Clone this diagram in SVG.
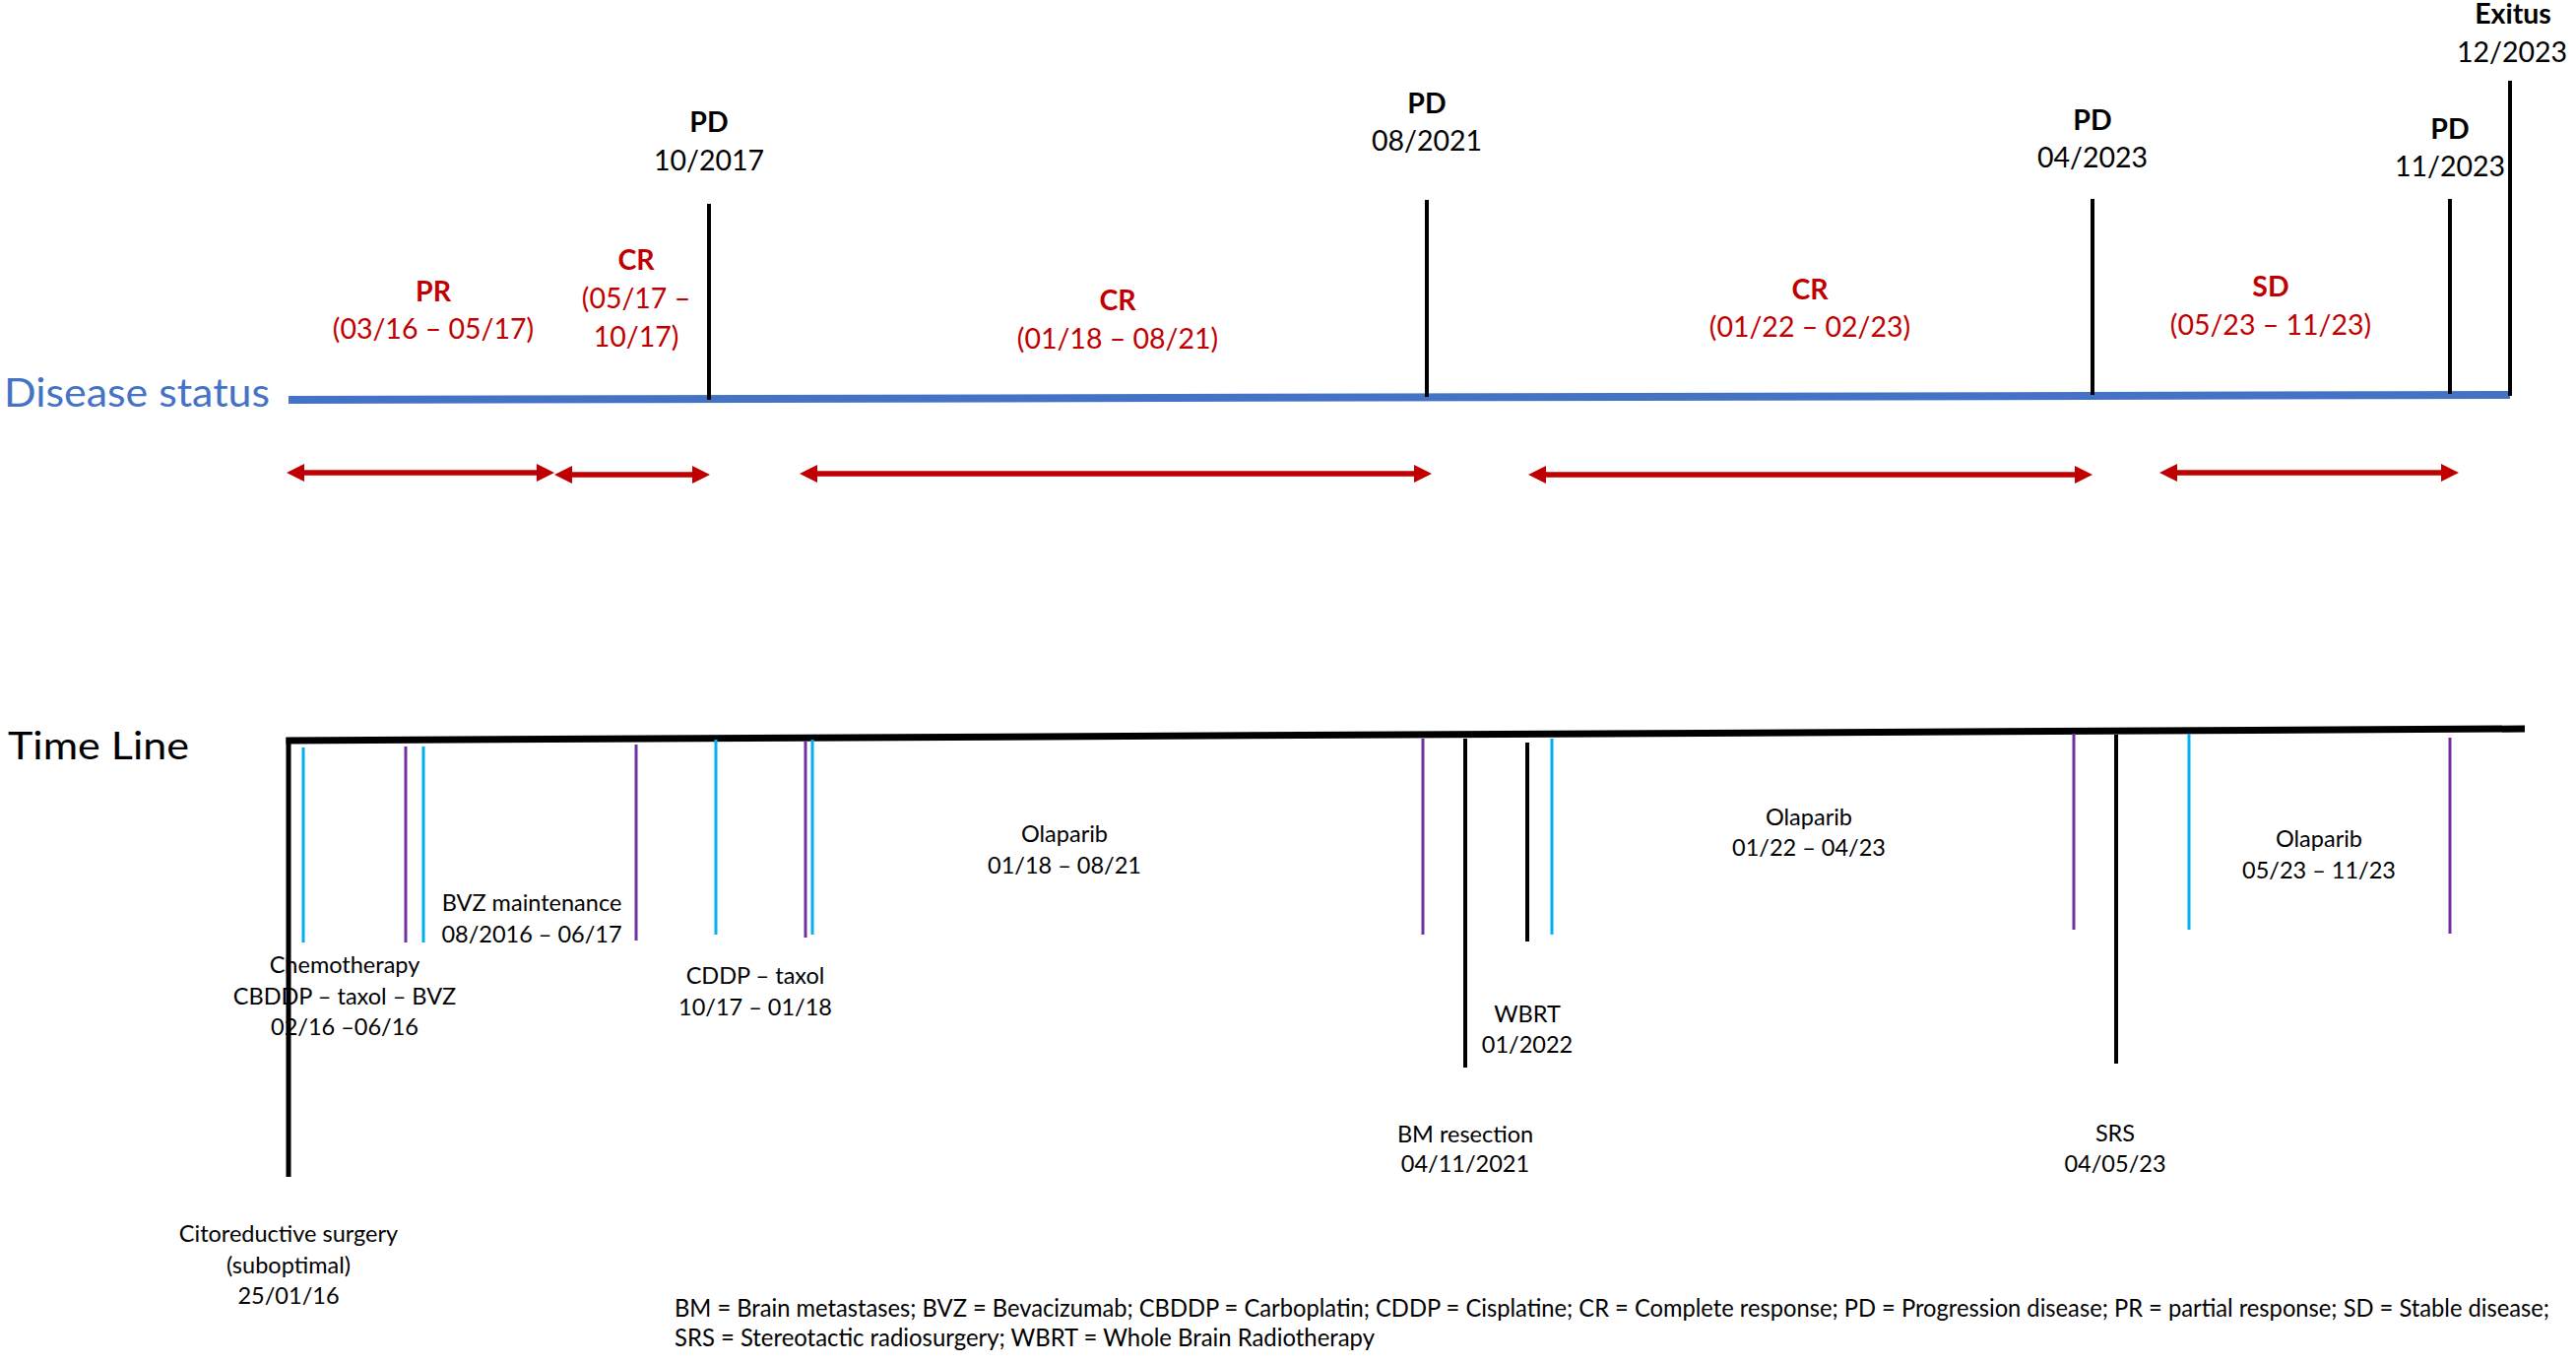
<svg xmlns="http://www.w3.org/2000/svg" width="2616" height="1384" viewBox="0 0 2616 1384">
<style>
text{font-family:Lato,"Open Sans","Liberation Sans",sans-serif;}
.top{font-size:28.5px;text-anchor:middle;fill:#000;}
.b{font-weight:bold;}
.red{fill:#C00000;}
.bot{font-size:23.5px;text-anchor:middle;fill:#000;}
.leg{font-size:24.5px;fill:#000;}
.blk{stroke:#000;stroke-width:4;fill:none;}
.cy{stroke:#00B0F0;stroke-width:3;fill:none;}
.pu{stroke:#7030A0;stroke-width:3;fill:none;}
.arr{stroke:#C00000;stroke-width:5.5;fill:none;marker-start:url(#ah);marker-end:url(#ah);}
</style>
<defs>
<marker id="ah" markerUnits="userSpaceOnUse" markerWidth="18" markerHeight="18" refX="0" refY="9" orient="auto-start-reverse" viewBox="0 0 18 18">
<path d="M0,0 L18,9 L0,18 Z" fill="#C00000"/>
</marker>
</defs>
<rect width="2616" height="1384" fill="#fff"/>

<g id="disease-status">
<text x="4" y="413" font-size="41" fill="#4472C4" textLength="270" lengthAdjust="spacingAndGlyphs">Disease status</text>
<line x1="293" y1="406" x2="2549" y2="401" stroke="#4472C4" stroke-width="8"/>
</g>

<g id="pd-2017">
<text class="top b" x="720" y="134">PD</text>
<text class="top" x="720" y="173">10/2017</text>
<line class="blk" x1="720" y1="207" x2="720" y2="406"/>
</g>
<g id="pd-2021">
<text class="top b" x="1449" y="115">PD</text>
<text class="top" x="1449" y="153">08/2021</text>
<line class="blk" x1="1449" y1="203" x2="1449" y2="403"/>
</g>
<g id="pd-2023-04">
<text class="top b" x="2125" y="132">PD</text>
<text class="top" x="2125" y="170">04/2023</text>
<line class="blk" x1="2125" y1="202" x2="2125" y2="401"/>
</g>
<g id="pd-2023-11">
<text class="top b" x="2488" y="141">PD</text>
<text class="top" x="2488" y="179">11/2023</text>
<line class="blk" x1="2488" y1="202" x2="2488" y2="400"/>
</g>
<g id="exitus">
<text class="top b" x="2552" y="24">Exitus</text>
<text class="top" x="2551" y="63">12/2023</text>
<line class="blk" x1="2549" y1="82" x2="2549" y2="402"/>
</g>

<g id="pr-label">
<text class="top b red" x="440" y="306">PR</text>
<text class="top red" x="440" y="344">(03/16 – 05/17)</text>
</g>
<g id="cr-1">
<text class="top b red" x="646" y="274">CR</text>
<text class="top red" x="646" y="313">(05/17 –</text>
<text class="top red" x="646" y="352">10/17)</text>
</g>
<g id="cr-2">
<text class="top b red" x="1135" y="315">CR</text>
<text class="top red" x="1135" y="354">(01/18 – 08/21)</text>
</g>
<g id="cr-3">
<text class="top b red" x="1838" y="304">CR</text>
<text class="top red" x="1838" y="342">(01/22 – 02/23)</text>
</g>
<g id="sd-label">
<text class="top b red" x="2306" y="301">SD</text>
<text class="top red" x="2306" y="340">(05/23 – 11/23)</text>
</g>

<g id="connectors">
<line class="arr" x1="309" y1="480" x2="545" y2="480"/>
<line class="arr" x1="581" y1="482" x2="703" y2="482"/>
<line class="arr" x1="830" y1="481" x2="1436" y2="481"/>
<line class="arr" x1="1570" y1="482" x2="2107" y2="482"/>
<line class="arr" x1="2211" y1="480" x2="2479" y2="480"/>
</g>

<g id="time-line">
<text x="8" y="771" font-size="39" fill="#000" textLength="184" lengthAdjust="spacingAndGlyphs">Time Line</text>
<line x1="290.5" y1="752" x2="2564" y2="740" stroke="#000" stroke-width="7"/>
</g>

<g id="surgery">
<text class="bot" x="293" y="1261">Citoreductive surgery</text>
<text class="bot" x="293" y="1293">(suboptimal)</text>
<text class="bot" x="293" y="1324">25/01/16</text>
</g>

<g id="chemotherapy">
<text class="bot" x="350" y="988">Chemotherapy</text>
<text class="bot" x="350" y="1020">CBDDP – taxol – BVZ</text>
<text class="bot" x="350" y="1051">02/16 –06/16</text>
<line class="cy" x1="308" y1="759" x2="308" y2="957"/>
<line class="pu" x1="412" y1="758" x2="412" y2="957"/>
</g>
<line x1="293" y1="749" x2="293" y2="1195" stroke="#000" stroke-width="5"/>

<g id="bvz-maintenance">
<text class="bot" x="540" y="925">BVZ maintenance</text>
<text class="bot" x="540" y="957">08/2016 – 06/17</text>
<line class="cy" x1="430" y1="758" x2="430" y2="957"/>
<line class="pu" x1="646" y1="756" x2="646" y2="955"/>
</g>

<g id="cddp-taxol">
<text class="bot" x="767" y="999">CDDP – taxol</text>
<text class="bot" x="767" y="1031">10/17 – 01/18</text>
<line class="cy" x1="727" y1="751" x2="727" y2="949"/>
<line class="pu" x1="818" y1="753" x2="818" y2="952"/>
</g>

<g id="olaparib-1">
<text class="bot" x="1081" y="855">Olaparib</text>
<text class="bot" x="1081" y="887">01/18 – 08/21</text>
<line class="cy" x1="825" y1="751" x2="825" y2="949"/>
<line class="pu" x1="1445" y1="750" x2="1445" y2="949"/>
</g>

<g id="bm-resection">
<text class="bot" x="1488" y="1160">BM resection</text>
<text class="bot" x="1488" y="1190">04/11/2021</text>
<line class="blk" x1="1488" y1="750" x2="1488" y2="1084"/>
</g>

<g id="wbrt">
<text class="bot" x="1551" y="1038">WBRT</text>
<text class="bot" x="1551" y="1069">01/2022</text>
<line class="blk" x1="1551" y1="754" x2="1551" y2="956"/>
</g>

<g id="olaparib-2">
<text class="bot" x="1837" y="838">Olaparib</text>
<text class="bot" x="1837" y="869">01/22 – 04/23</text>
<line class="cy" x1="1576" y1="750" x2="1576" y2="949"/>
<line class="pu" x1="2106" y1="745" x2="2106" y2="944"/>
</g>

<g id="srs">
<text class="bot" x="2148" y="1159">SRS</text>
<text class="bot" x="2148" y="1190">04/05/23</text>
<line class="blk" x1="2149" y1="746" x2="2149" y2="1080"/>
</g>

<g id="olaparib-3">
<text class="bot" x="2355" y="860">Olaparib</text>
<text class="bot" x="2355" y="892">05/23 – 11/23</text>
<line class="cy" x1="2223" y1="745" x2="2223" y2="944"/>
<line class="pu" x1="2488" y1="749" x2="2488" y2="948"/>
</g>

<g id="legend">
<text class="leg" x="685" y="1337" textLength="1904" lengthAdjust="spacingAndGlyphs">BM = Brain metastases; BVZ = Bevacizumab; CBDDP = Carboplatin; CDDP = Cisplatine; CR = Complete response; PD = Progression disease; PR = partial response; SD = Stable disease;</text>
<text class="leg" x="685" y="1367" textLength="711" lengthAdjust="spacingAndGlyphs">SRS = Stereotactic radiosurgery; WBRT = Whole Brain Radiotherapy</text>
</g>
</svg>
